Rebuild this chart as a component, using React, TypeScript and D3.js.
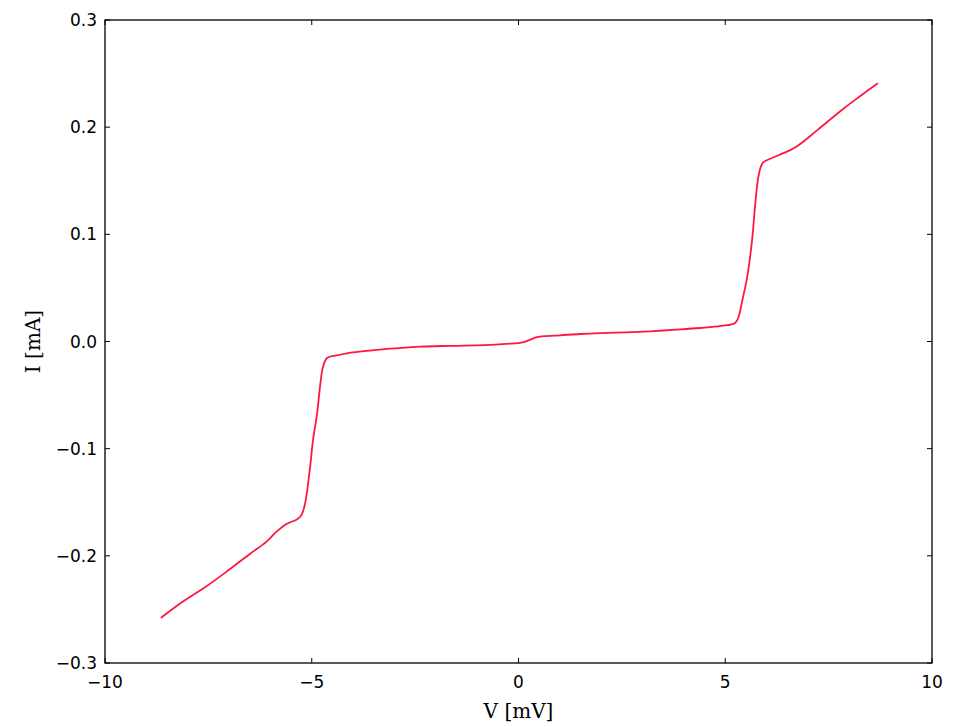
import React from "react";
import * as d3 from "d3";

const voltage = [-8.65, -8.2, -7.53, -7.0, -6.49, -6.1, -5.84, -5.6, -5.36, -5.25, -5.16, -5.04, -4.97, -4.87, -4.8, -4.73, -4.63, -4.4, -4.15, -3.6, -3.0, -2.38, -1.6, -0.82, -0.3, 0.11, 0.3, 0.45, 0.64, 1.0, 1.49, 1.97, 2.6, 3.18, 3.8, 4.39, 4.9, 5.24, 5.33, 5.4, 5.53, 5.65, 5.72, 5.79, 5.85, 5.91, 6.0, 6.3, 6.69, 7.22, 7.85, 8.3, 8.69];
const current = [-0.258, -0.245, -0.228, -0.213, -0.198, -0.187, -0.177, -0.170, -0.166, -0.162, -0.151, -0.117, -0.092, -0.067, -0.042, -0.024, -0.0154, -0.013, -0.011, -0.0085, -0.0065, -0.0048, -0.004, -0.0033, -0.0022, -0.0008, 0.002, 0.004, 0.005, 0.0058, 0.007, 0.0078, 0.0085, 0.0095, 0.011, 0.0126, 0.0145, 0.0173, 0.024, 0.036, 0.06, 0.095, 0.126, 0.151, 0.162, 0.167, 0.169, 0.174, 0.181, 0.197, 0.217, 0.230, 0.241];
const xTicks = [-10, -5, 0, 5, 10];
const yTicks = [-0.3, -0.2, -0.1, 0.0, 0.1, 0.2, 0.3];

export default function App() {
  const W = 953, H = 727;
  const left = 105, right = 932, top = 20, bottom = 663;
  const x = d3.scaleLinear().domain([-10, 10]).range([left, right]);
  const y = d3.scaleLinear().domain([-0.3, 0.3]).range([bottom, top]);
  const pts: [number, number][] = voltage.map((v, i) => [v, current[i]]);
  const line = d3.line<[number, number]>().x(d => x(d[0])).y(d => y(d[1])).curve(d3.curveCatmullRom.alpha(0.5));
  const fmtY = (v: number) => (v < 0 ? "\u2212" : "") + Math.abs(v).toFixed(1);
  const fmtX = (v: number) => (v < 0 ? "\u2212" : "") + Math.abs(v);
  return (
    <svg width={W} height={H} style={{ position: "absolute", left: 0, top: 0, background: "#fff" }}>
      <path d={line(pts) || ""} fill="none" stroke="#ff1744" strokeWidth={1.8} strokeLinejoin="round" />
      {xTicks.map(t => (
        <g key={"x" + t}>
          <line x1={x(t)} x2={x(t)} y1={bottom} y2={bottom - 5} stroke="#000" />
          <line x1={x(t)} x2={x(t)} y1={top} y2={top + 5} stroke="#000" />
          <text x={x(t)} y={bottom + 25} textAnchor="middle" fontFamily="DejaVu Sans" fontSize={17}>{fmtX(t)}</text>
        </g>
      ))}
      {yTicks.map(t => (
        <g key={"y" + t}>
          <line x1={left} x2={left + 5} y1={y(t)} y2={y(t)} stroke="#000" />
          <line x1={right} x2={right - 5} y1={y(t)} y2={y(t)} stroke="#000" />
          <text x={left - 8} y={y(t) + 6} textAnchor="end" fontFamily="DejaVu Sans" fontSize={17}>{fmtY(t)}</text>
        </g>
      ))}
      <rect x={left} y={top} width={right - left} height={bottom - top} fill="none" stroke="#000" strokeWidth={1.3} />
      <text x={(left + right) / 2} y={718} textAnchor="middle" fontFamily="DejaVu Serif" fontSize={20}>V [mV]</text>
      <text transform={`translate(40,${(top + bottom) / 2}) rotate(-90)`} textAnchor="middle" fontFamily="DejaVu Serif" fontSize={20}>I [mA]</text>
    </svg>
  );
}
